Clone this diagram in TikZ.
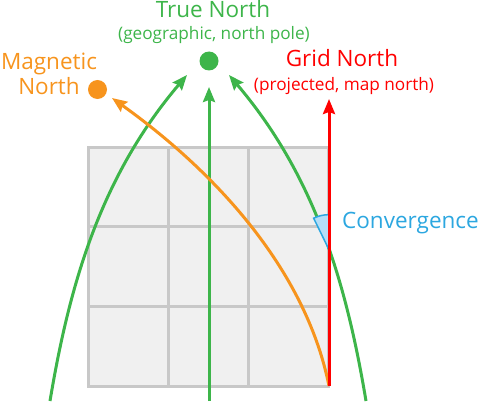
\documentclass[tikz,border=0pt]{standalone}
\usepackage{fontspec}
\setmainfont{Open Sans}
\usetikzlibrary{arrows.meta,intersections}
\definecolor{tngreen}{HTML}{3DB54A}
\definecolor{mnorange}{HTML}{F7941D}
\definecolor{gnred}{HTML}{FF0000}
\definecolor{gridfill}{HTML}{F0F0F0}
\definecolor{gridline}{HTML}{C8C8C8}
\definecolor{convblue}{HTML}{2CA7E0}
\definecolor{convfill}{HTML}{B5DEF7}
\tikzset{
  tip/.style={-{Stealth[length=15pt,width=12pt,inset=2pt]}},
  bigtext/.style={font=\fontsize{22.5}{27}\selectfont, anchor=base, inner sep=0},
  smalltext/.style={font=\fontsize{17.2}{20}\selectfont, anchor=base, inner sep=0},
  gridcell/.style={draw=gridline, fill=gridfill, line width=3pt},
  curve/.style={line width=3pt},
  dot/.style={circle, inner sep=0, minimum size=19pt}
}
\begin{document}
\begin{tikzpicture}[x=1pt,y=-1pt]
\useasboundingbox (0,0) rectangle (486,401);
% grid
\foreach \i in {0,1,2}{
  \foreach \j in {0,1,2}{
    \path[gridcell] (88+80.33*\i,147+79.67*\j) rectangle ++(80.33,79.67);
  }
}
% coordinates
\coordinate (gb) at (329,386);
\coordinate (gt) at (329,99);
\coordinate (cb) at (209,401);
\coordinate (ct) at (209,87);
\coordinate (lb) at (50,401);
\coordinate (lt) at (187,75);
\coordinate (rb) at (366,401);
\coordinate (rt) at (229,75);
\coordinate (mt) at (112,98);
% dots
\node[dot, fill=tngreen] (tn) at (209,61) {};
\node[dot, fill=mnorange] (mn) at (97.5,89.5) {};
% green curves
\draw[curve, tngreen, tip] (lb) .. controls (70,281) and (102,175) .. (lt);
\draw[curve, tngreen, tip, name path=rcurve] (rb) .. controls (346,281) and (314,175) .. (rt);
\draw[curve, tngreen, tip] (cb) -- (ct);
% orange
\draw[curve, mnorange, tip] (gb) .. controls (305,266) and (210,168) .. (mt);
% convergence wedge
\path[name path=rline] (gb) -- (gt);
\path[name intersections={of=rcurve and rline, by=X}];
\filldraw[draw=convblue, fill=convfill, line width=1.5pt] (X) -- ++(0,-35) arc[start angle=270, end angle=244, radius=35] -- cycle;
% red
\draw[curve, gnred, tip] (gb) -- (gt);
% texts
\node[bigtext, text=tngreen] (tnl) at (213,18) {True North};
\node[smalltext, text=tngreen] (tns) at (214,40) {(geographic, north pole)};
\node[font=\fontsize{22.5}{25}\selectfont, text=mnorange, align=center, inner sep=0] (mnl) at (49,74) {Magnetic\\North};
\node[bigtext, text=gnred] (gnl) at (342,67) {Grid North};
\node[smalltext, text=gnred] (gns) at (344,90) {(projected, map north)};
\node[bigtext, text=convblue, anchor=base west] (cvl) at (342,228) {Convergence};
\end{tikzpicture}
\end{document}
